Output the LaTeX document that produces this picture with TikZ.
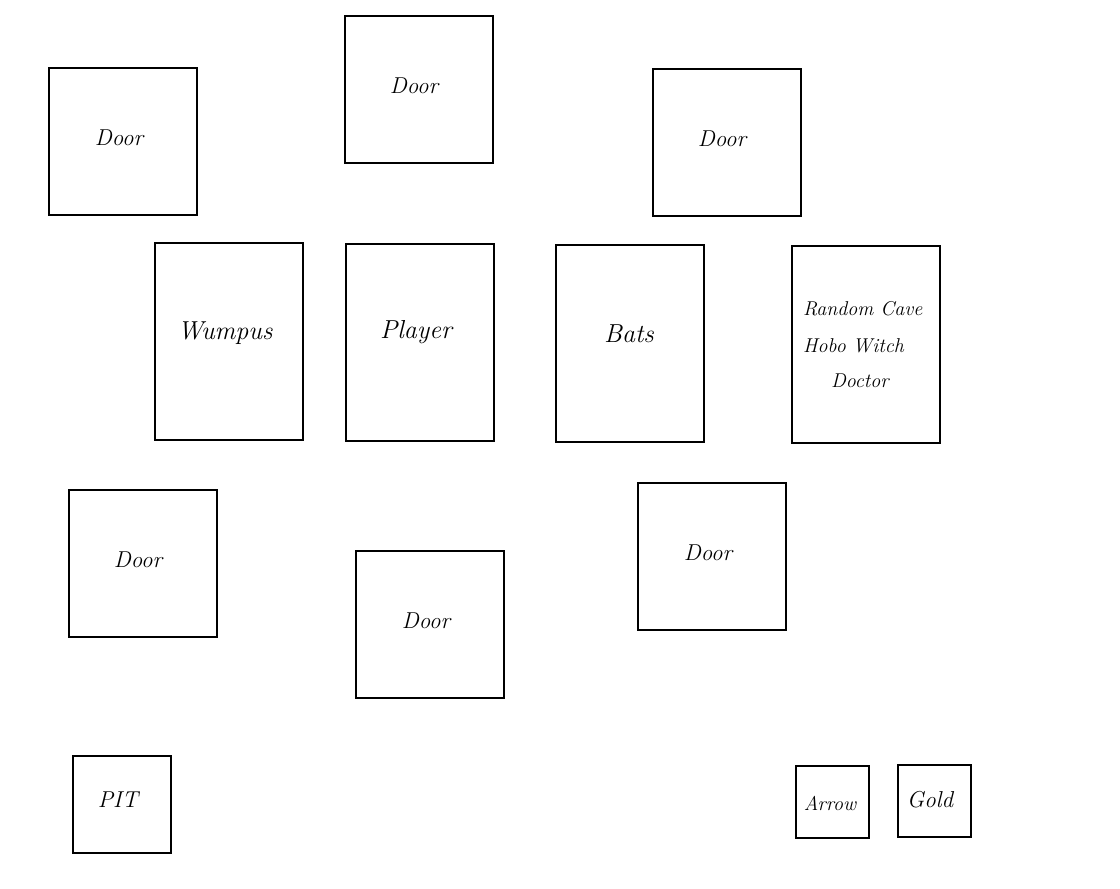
\documentclass[tikz,border=0pt]{standalone}
\begin{document}
\begin{tikzpicture}[x=1pt,y=-1pt,
  box/.style={draw=black,line width=1.6pt,inner sep=0pt},
  lbl/.style={font=\fontsize{20}{24}\selectfont\itshape,inner sep=0pt},
  med/.style={font=\fontsize{23}{27}\selectfont\itshape,inner sep=0pt},
  big/.style={font=\fontsize{26}{30}\selectfont\itshape,inner sep=0pt}]
\useasboundingbox[fill=white] (0,0) rectangle (1120,889);
% boxes
\draw[box] (49,68) rectangle (197,215);
\draw[box] (345,16) rectangle (493,163);
\draw[box] (653,69) rectangle (801,216);
\draw[box] (155,243) rectangle (303,440);
\draw[box] (346,244) rectangle (494,441);
\draw[box] (556,245) rectangle (704,442);
\draw[box] (792,246) rectangle (940,443);
\draw[box] (69,490) rectangle (217,637);
\draw[box] (356,551) rectangle (504,698);
\draw[box] (638,483) rectangle (786,630);
\draw[box] (73,756) rectangle (171,853);
\draw[box] (796,766) rectangle (869,838);
\draw[box] (898,765) rectangle (971,837);
% labels
\node[med] (d1) at (119,138) {Door};
\node[med] (d2) at (414,86) {Door};
\node[med] (d3) at (722,139) {Door};
\node[big] (w) at (225,333) {Wumpus};
\node[big] (p) at (416,332) {Player};
\node[big] (b) at (629,334) {Bats};
\node[lbl,anchor=west] (r1) at (803,309) {Random Cave};
\node[lbl,anchor=west] (r2) at (803,346) {Hobo Witch};
\node[lbl,anchor=west] (r3) at (831,381) {Doctor};
\node[med] (d4) at (138,560) {Door};
\node[med] (d5) at (426,621) {Door};
\node[med] (d6) at (708,553) {Door};
\node[med] (pit) at (118,800) {PIT};
\node[lbl] (ar) at (830,803) {Arrow};
\node[med] (go) at (930,800) {Gold};
\end{tikzpicture}
\end{document}
